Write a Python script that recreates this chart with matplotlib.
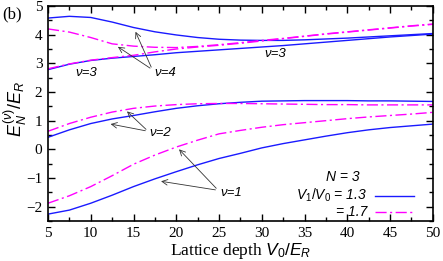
import matplotlib
matplotlib.use("Agg")
import matplotlib.pyplot as plt
from matplotlib.ticker import MultipleLocator

plt.rcParams['mathtext.fontset'] = 'custom'
plt.rcParams['mathtext.rm'] = 'Liberation Sans'
plt.rcParams['mathtext.it'] = 'Liberation Sans:italic'

# lattice depth V0/ER
v0 = [5, 7.5, 10, 12.5, 15, 17.5, 20, 22.5, 25, 27.5, 30, 32.5, 35, 37.5, 40, 42.5, 45, 47.5, 50]

# V1/V0 = 1.3 (blue, solid)
b1 = [-2.26, -2.12, -1.88, -1.6, -1.3, -1.03, -0.78, -0.54, -0.32, -0.14, 0.05, 0.2, 0.33, 0.46, 0.58, 0.68, 0.76, 0.82, 0.88]
b2 = [0.42, 0.68, 0.9, 1.06, 1.18, 1.31, 1.43, 1.52, 1.59, 1.64, 1.68, 1.69, 1.7, 1.7, 1.7, 1.69, 1.69, 1.68, 1.67]
b3 = [2.78, 2.97, 3.1, 3.18, 3.24, 3.3, 3.37, 3.42, 3.47, 3.52, 3.57, 3.62, 3.68, 3.74, 3.8, 3.86, 3.92, 3.97, 4.02]
b4 = [4.58, 4.64, 4.6, 4.44, 4.25, 4.1, 3.99, 3.9, 3.84, 3.81, 3.8, 3.8, 3.82, 3.85, 3.88, 3.92, 3.96, 4.0, 4.04]

# V1/V0 = 1.7 (magenta, dash-dot)
p1 = [-1.88, -1.62, -1.3, -0.92, -0.52, -0.2, 0.08, 0.32, 0.54, 0.66, 0.77, 0.86, 0.93, 1.0, 1.07, 1.13, 1.18, 1.23, 1.29]
p2 = [0.63, 0.9, 1.12, 1.3, 1.43, 1.51, 1.56, 1.59, 1.6, 1.6, 1.59, 1.58, 1.57, 1.56, 1.56, 1.55, 1.55, 1.55, 1.55]
p3 = [2.81, 2.98, 3.11, 3.2, 3.28, 3.4, 3.5, 3.57, 3.63, 3.7, 3.78, 3.86, 3.94, 4.02, 4.09, 4.16, 4.23, 4.3, 4.36]
p4 = [4.2, 4.09, 3.9, 3.68, 3.6, 3.56, 3.55, 3.59, 3.65, 3.72, 3.8, 3.87, 3.95, 4.03, 4.1, 4.17, 4.24, 4.31, 4.37]

blue = '#1a1aff'
pink = '#ff00ff'
dd = (8, 2.5, 1.5, 2.5)

fig = plt.figure(figsize=(4.43, 2.61), dpi=100)
ax = fig.add_axes([0.1084, 0.1533, 0.8686, 0.8237])

for y in [b1, b2, b3, b4]:
    ax.plot(v0, y, color=blue, lw=1.0)
for y in [p1, p2, p3, p4]:
    ax.plot(v0, y, color=pink, lw=1.0, dashes=dd)

ax.set_xlim(5, 50)
ax.set_ylim(-2.5, 5)
ax.xaxis.set_major_locator(MultipleLocator(5))
ax.xaxis.set_minor_locator(MultipleLocator(2.5))
ax.yaxis.set_major_locator(MultipleLocator(1))
ax.yaxis.set_minor_locator(MultipleLocator(0.5))
ax.tick_params(which='both', direction='in', top=True, right=True, width=1)
ax.tick_params(which='major', length=5, labelsize=11, pad=4)
ax.tick_params(which='minor', length=3)
for lab in ax.get_xticklabels() + ax.get_yticklabels():
    lab.set_family('Liberation Serif')
for s in ax.spines.values():
    s.set_linewidth(1.2)

ax.set_xlabel('Lattice depth $V_0/E_R$', family='Liberation Serif', fontsize=12.5, labelpad=1)
ax.set_ylabel(r'$E_N^{(\nu)}/E_R$', fontsize=13)
ax.yaxis.set_label_coords(-0.05, 0.52)
fig.text(0.005, 0.975, '(b)', family='Liberation Serif', fontsize=12, va='top')

lab = dict(family='Liberation Sans', style='italic', fontsize=9.5)
arr = dict(arrowstyle='->', color='#333333', lw=0.6)

ax.text(8.2, 2.68, 'ν=3', va='center', **lab)
ax.text(30.3, 3.34, 'ν=3', va='center', **lab)

ax.text(17.4, 2.68, 'ν=4', va='center', **lab)
ax.annotate('', xy=(15.1, 4.19), xytext=(17.2, 2.78), arrowprops=arr)
ax.annotate('', xy=(12.9, 3.63), xytext=(17.2, 2.78), arrowprops=arr)

ax.text(16.9, 0.56, 'ν=2', va='center', **lab)
ax.annotate('', xy=(14.0, 1.39), xytext=(16.7, 0.63), arrowprops=arr)
ax.annotate('', xy=(12.0, 0.9), xytext=(16.7, 0.63), arrowprops=arr)

ax.text(25.2, -1.53, 'ν=1', va='center', **lab)
ax.annotate('', xy=(20.1, 0.07), xytext=(24.9, -1.43), arrowprops=arr)
ax.annotate('', xy=(17.9, -1.1), xytext=(24.9, -1.43), arrowprops=arr)

# legend
leg = dict(family='Liberation Sans', style='italic', fontsize=10, va='center')
ax.text(39.5, -0.97, 'N = 3', ha='center', **leg)
ax.text(42.3, -1.62, '$V_1/V_0$ = 1.3', ha='right', **leg)
ax.text(42.3, -2.18, '= 1.7', ha='right', **leg)
ax.plot([43.2, 47.8], [-1.62, -1.62], color=blue, lw=1.0)
ax.plot([43.2, 47.8], [-2.18, -2.18], color=pink, lw=1.0, dashes=dd)

fig.savefig('out.png', dpi=100)
